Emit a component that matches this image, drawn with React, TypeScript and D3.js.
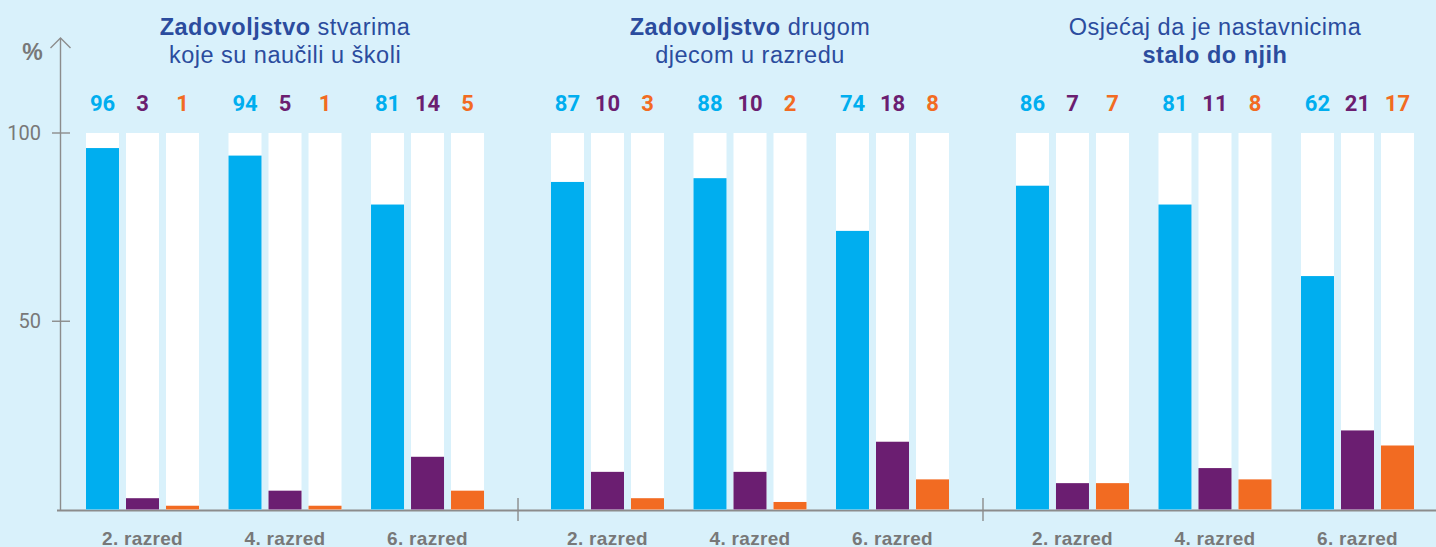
import React from "react";
import * as d3 from "d3";

const sectionIds = ["s1", "s2", "s3"];
const titleLines: { text: string; bold: boolean }[][][] = [
  [
    [{ text: "Zadovoljstvo", bold: true }, { text: " stvarima", bold: false }],
    [{ text: "koje su naučili u školi", bold: false }],
  ],
  [
    [{ text: "Zadovoljstvo", bold: true }, { text: " drugom", bold: false }],
    [{ text: "djecom u razredu", bold: false }],
  ],
  [
    [{ text: "Osjećaj da je nastavnicima", bold: false }],
    [{ text: "stalo do njih", bold: true }],
  ],
];
const grades = ["2. razred", "4. razred", "6. razred"];
const seriesIds = ["positive", "neutral", "negative"];
const positiveValues = [
  [96, 94, 81],
  [87, 88, 74],
  [86, 81, 62],
];
const neutralValues = [
  [3, 5, 14],
  [10, 10, 18],
  [7, 11, 21],
];
const negativeValues = [
  [1, 1, 5],
  [3, 2, 8],
  [7, 8, 17],
];
const yTicks = [50, 100];

const W = 1436;
const H = 547;
const BG = "#d9f1fb";
const COLORS = ["#00aeef", "#6b1e71", "#f26b22"];
const AXIS = "#8c8c8c";
const TITLE = "#2b4c9e";
const GRAY = "#787878";
const FONT = "'Liberation Sans', Arial, sans-serif";
const NUMFONT = "Roboto, 'Liberation Sans', Arial, sans-serif";

export default function App() {
  const series = [positiveValues, neutralValues, negativeValues];
  const y = d3.scaleLinear().domain([0, 100]).range([509.5, 133]);
  const xSection = d3
    .scaleBand<string>()
    .domain(sectionIds)
    .range([86, 1414])
    .paddingInner(0.144)
    .paddingOuter(0);
  const xGroup = d3
    .scaleBand<string>()
    .domain(grades)
    .range([0, xSection.bandwidth()])
    .paddingInner(0.207)
    .paddingOuter(0);
  const xBar = d3
    .scaleBand<string>()
    .domain(seriesIds)
    .range([0, xGroup.bandwidth()])
    .paddingInner(0.175)
    .paddingOuter(0);
  const axisX = 60.5;
  const baseY = 510.5;
  const sepXs = [
    (xSection("s1")! + xSection.bandwidth() + xSection("s2")!) / 2 + 0.5,
    (xSection("s2")! + xSection.bandwidth() + xSection("s3")!) / 2 + 0.5,
  ];

  return (
    <svg
      width={W}
      height={H}
      style={{ position: "absolute", left: 0, top: 0, background: BG }}
      fontFamily={FONT}
    >
      <rect x={0} y={0} width={W} height={H} fill={BG} />
      {/* y axis */}
      <line x1={axisX} x2={axisX} y1={38} y2={baseY} stroke={AXIS} strokeWidth={1.4} />
      <polyline
        points={`${axisX - 10},${48} ${axisX},${38} ${axisX + 10},${48}`}
        fill="none"
        stroke={AXIS}
        strokeWidth={1.4}
      />
      <text x={32.5} y={60} textAnchor="middle" fontSize={23} fontWeight={700} fill={GRAY}>
        %
      </text>
      {yTicks.map((t) => (
        <g key={t}>
          <line x1={52} x2={70} y1={y(t)} y2={y(t)} stroke={AXIS} strokeWidth={1.4} />
          <text
            x={41}
            y={y(t)}
            dy="0.36em"
            textAnchor="end"
            fontSize={20}
            fontFamily={NUMFONT}
            fill={GRAY}
          >
            {t}
          </text>
        </g>
      ))}
      {/* baseline */}
      <line x1={57} x2={W} y1={baseY} y2={baseY} stroke={AXIS} strokeWidth={2} />
      {sepXs.map((sx, i) => (
        <line key={i} x1={sx} x2={sx} y1={498} y2={521} stroke={AXIS} strokeWidth={1.4} />
      ))}
      {sectionIds.map((sid, si) => {
        const sx = xSection(sid)!;
        const cx = sx + xSection.bandwidth() / 2;
        return (
          <g key={sid}>
            {titleLines[si].map((line, li) => (
              <text
                key={li}
                x={cx}
                y={35 + li * 28}
                textAnchor="middle"
                fontSize={23.5}
                letterSpacing={0.5}
                fill={TITLE}
              >
                {line.map((part, pi) => (
                  <tspan key={pi} fontWeight={part.bold ? 700 : 400}>
                    {part.text}
                  </tspan>
                ))}
              </text>
            ))}
            {grades.map((g, gi) => {
              const gx = sx + xGroup(g)!;
              return (
                <g key={g}>
                  {seriesIds.map((s, k) => {
                    const bx = gx + xBar(s)!;
                    const v = series[k][si][gi];
                    return (
                      <g key={s}>
                        <rect
                          x={bx}
                          y={y(100)}
                          width={xBar.bandwidth()}
                          height={y(0) - y(100)}
                          fill="#ffffff"
                        />
                        <rect
                          x={bx}
                          y={y(v)}
                          width={xBar.bandwidth()}
                          height={y(0) - y(v)}
                          fill={COLORS[k]}
                        />
                        <text
                          x={bx + xBar.bandwidth() / 2}
                          y={111}
                          textAnchor="middle"
                          fontSize={22}
                          fontWeight={700}
                          fontFamily={NUMFONT}
                          fill={COLORS[k]}
                        >
                          {v}
                        </text>
                      </g>
                    );
                  })}
                  <text
                    x={gx + xGroup.bandwidth() / 2}
                    y={544.5}
                    textAnchor="middle"
                    fontSize={19}
                    letterSpacing={0.3}
                    fontWeight={700}
                    fill={GRAY}
                  >
                    {g}
                  </text>
                </g>
              );
            })}
          </g>
        );
      })}
    </svg>
  );
}
